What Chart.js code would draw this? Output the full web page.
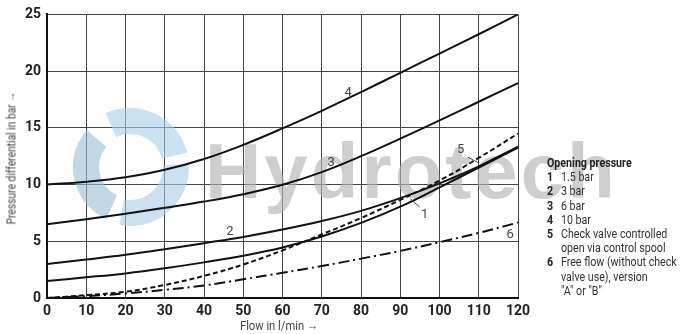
<!DOCTYPE html>
<html>
<head>
<meta charset="utf-8">
<script src="https://cdn.jsdelivr.net/npm/chart.js@4.4.1/dist/chart.umd.min.js"></script>
<style>
html, body { margin: 0; padding: 0; background: #fff; }
#wrap { position: relative; width: 680px; height: 334px; overflow: hidden; }
.t { position: absolute; font-family: Roboto, sans-serif; color: #444; white-space: nowrap; }
#legend { left: 547px; top: 156px; font-size: 13px; line-height: 14.2px; color: #333; transform: scaleX(0.82); transform-origin: 0 0; }
#legend .h { font-weight: bold; color: #222; }
#legend .r { display: flex; }
#legend .n { width: 17px; font-weight: bold; color: #222; flex: none; }
#ytitle { left: 11px; top: 158px; font-size: 12.5px; transform: translate(-50%, -50%) rotate(-90deg) scaleX(0.82); }
#xtitle { left: 279px; top: 325px; font-size: 13px; transform: translate(-50%, -50%) scaleX(0.86); }
</style>
</head>
<body>
<div id="wrap">
<canvas id="chart" width="680" height="334"></canvas>
<div class="t" id="ytitle">Pressure differential in bar →</div>
<div class="t" id="xtitle">Flow in l/min →</div>
<div class="t" id="legend">
  <div class="h">Opening pressure</div>
  <div class="r"><span class="n">1</span><span>1.5 bar</span></div>
  <div class="r"><span class="n">2</span><span>3 bar</span></div>
  <div class="r"><span class="n">3</span><span>6 bar</span></div>
  <div class="r"><span class="n">4</span><span>10 bar</span></div>
  <div class="r"><span class="n">5</span><span>Check valve controlled<br>open via control spool</span></div>
  <div class="r"><span class="n">6</span><span>Free flow (without check<br>valve use), version<br>"A" or "B"</span></div>
</div>
</div>
<script>
// flow in l/min
const flow = [0, 10, 20, 30, 40, 50, 60, 70, 80, 90, 100, 110, 120];
// pressure differential in bar
const curve1 = [1.5, 1.82, 2.17, 2.62, 3.14, 3.72, 4.45, 5.42, 6.62, 8.05, 9.75, 11.5, 13.25];
const curve2 = [3.0, 3.39, 3.81, 4.3, 4.83, 5.38, 6.03, 6.78, 7.68, 8.8, 10.1, 11.6, 13.35];
const curve3 = [6.5, 6.95, 7.43, 7.95, 8.5, 9.15, 9.98, 11.1, 12.5, 14.05, 15.65, 17.3, 18.95];
const curve4 = [10.0, 10.25, 10.65, 11.3, 12.25, 13.5, 14.95, 16.5, 18.15, 19.85, 21.55, 23.25, 25.0];
const curve5 = [0, 0.25, 0.55, 1.15, 1.95, 2.95, 4.2, 5.6, 7.05, 8.65, 10.35, 12.35, 14.5];
const curve6 = [0, 0.17, 0.4, 0.72, 1.1, 1.65, 2.22, 2.82, 3.47, 4.15, 4.92, 5.74, 6.65];
const curveNames = ['1', '2', '3', '4', '5', '6'];
const xTicks = [0, 10, 20, 30, 40, 50, 60, 70, 80, 90, 100, 110, 120];
const yTicks = [0, 5, 10, 15, 20, 25];

// curve number labels: [text, x, y, leader from x, y, leader to x, y]
const curveLabels = [
  ['4', 76.7, 18.1],
  ['3', 72.4, 11.9],
  ['2', 46.6, 5.85],
  ['1', 96.2, 7.35, 95.0, 8.0, 92.6, 8.75],
  ['5', 105.4, 13.1, 107.3, 12.4, 110.0, 11.9],
  ['6', 118.0, 5.55]
];

const font = 'Roboto, sans-serif';

function mk(i, data, dash) {
  return {
    label: curveNames[i],
    data: data,
    borderColor: '#111',
    borderWidth: 2,
    borderDash: dash,
    pointRadius: 0,
    fill: false,
    tension: 0.4
  };
}

const watermark = {
  id: 'watermark',
  beforeDatasetsDraw(chart) {
    const c = chart.ctx;
    c.save();
    c.lineCap = 'butt';
    c.lineWidth = 26;
    c.strokeStyle = 'rgba(165,208,234,0.6)';
    c.beginPath();
    c.arc(130, 167, 46, -2.0, -0.25);
    c.stroke();
    c.strokeStyle = 'rgba(170,205,228,0.6)';
    c.beginPath();
    c.arc(130, 167, 46, -0.05, 1.75);
    c.stroke();
    c.strokeStyle = 'rgba(155,190,214,0.6)';
    c.beginPath();
    c.arc(130, 167, 44, 2.0, 3.85);
    c.stroke();
    c.fillStyle = 'rgba(180,180,180,0.65)';
    c.font = 'bold 78px "Liberation Sans", Arial, sans-serif';
    c.letterSpacing = '3px';
    c.textBaseline = 'alphabetic';
    c.fillText('Hydrotech', 205, 198);
    c.restore();
  }
};

const curveText = {
  id: 'curveText',
  afterDatasetsDraw(chart) {
    const c = chart.ctx;
    const xs = chart.scales.x, ys = chart.scales.y;
    c.save();
    c.fillStyle = '#444';
    c.strokeStyle = '#444';
    c.lineWidth = 1;
    c.font = '13px ' + font;
    c.textAlign = 'center';
    c.textBaseline = 'middle';
    curveLabels.forEach(l => {
      c.fillText(l[0], xs.getPixelForValue(l[1]), ys.getPixelForValue(l[2]));
      if (l.length > 3) {
        c.beginPath();
        c.moveTo(xs.getPixelForValue(l[3]), ys.getPixelForValue(l[4]));
        c.lineTo(xs.getPixelForValue(l[5]), ys.getPixelForValue(l[6]));
        c.stroke();
      }
    });
    c.restore();
  }
};

var ctx = document.getElementById('chart').getContext('2d');
var myChart = new Chart(ctx, {
  type: 'line',
  data: {
    labels: flow,
    datasets: [
      mk(0, curve1, []),
      mk(1, curve2, []),
      mk(2, curve3, []),
      mk(3, curve4, []),
      mk(4, curve5, [5, 3]),
      mk(5, curve6, [11, 4, 2, 4])
    ]
  },
  options: {
    responsive: false,
    animation: false,
    layout: { padding: { top: 5, right: 162, left: 0, bottom: 0 } },
    plugins: { legend: { display: false }, tooltip: { enabled: false } },
    scales: {
      x: {
        type: 'linear',
        min: 0, max: 120,
        afterFit: s => { s.height = 36; },
        afterBuildTicks: s => { s.ticks = xTicks.map(v => ({ value: v })); },
        grid: { color: '#444', lineWidth: 1, drawTicks: false },
        border: { color: '#111', width: 2 },
        ticks: { color: '#222', padding: 5, maxRotation: 0, font: { family: font, size: 14, weight: 'bold' } },
        title: { display: false }
      },
      y: {
        min: 0, max: 25,
        afterFit: s => { s.width = 47; },
        afterBuildTicks: s => { s.ticks = yTicks.map(v => ({ value: v })); },
        grid: { color: '#444', lineWidth: 1, drawTicks: false },
        border: { color: '#111', width: 2 },
        ticks: { color: '#222', padding: 6, font: { family: font, size: 14, weight: 'bold' } },
        title: { display: false }
      }
    }
  },
  plugins: [watermark, curveText]
});
</script>
</body>
</html>
